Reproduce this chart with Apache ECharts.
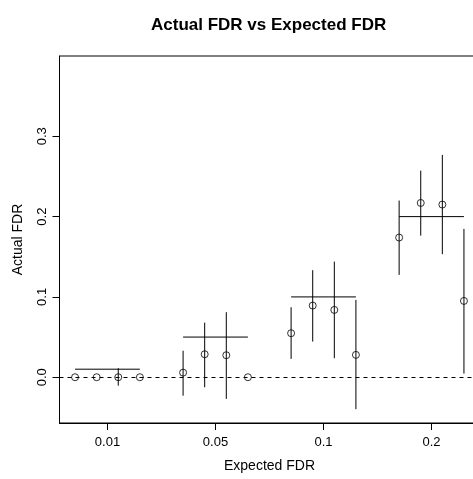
<!DOCTYPE html>
<html><head><meta charset="utf-8">
<script src="https://cdn.jsdelivr.net/npm/echarts@6/dist/echarts.min.js"></script>
<style>html,body{margin:0;padding:0;background:#fff}#c{width:473px;height:479px}</style>
</head><body><div id="c"></div>
<script>
// ---- data ----
const groupLabels = ['0.01', '0.05', '0.1', '0.2'];
const expectedFDR = [0.01, 0.05, 0.1, 0.2];
const actual = [
  [0, 0, 0, 0],
  [0.0057, 0.0286, 0.0274, 0],
  [0.0548, 0.0892, 0.0838, 0.0278],
  [0.1739, 0.217, 0.215, 0.095]
];
const lower = [
  [null, null, -0.0105, null],
  [-0.023, -0.0125, -0.027, null],
  [0.0228, 0.0444, 0.0237, -0.0398],
  [0.1274, 0.1763, 0.1532, 0.0045]
];
const upper = [
  [null, null, 0.0112, null],
  [0.033, 0.068, 0.081, null],
  [0.0872, 0.1333, 0.144, 0.0963],
  [0.22, 0.2573, 0.2768, 0.1847]
];
const yTicks = [0, 0.1, 0.2, 0.3];

// ---- build ----
const pos = (g, j) => 5 * g + j + 1;
const groupTick = g => 5 * g + 2.5;
const xTicks = groupLabels.map((_, g) => groupTick(g));

const points = [], bars = [], targets = [];
actual.forEach((row, g) => {
  row.forEach((v, j) => {
    points.push([pos(g, j), v]);
    if (lower[g][j] != null) bars.push([pos(g, j), lower[g][j], upper[g][j]]);
  });
  targets.push([pos(g, 0), pos(g, row.length - 1), expectedFDR[g]]);
});

const FONT = 'Liberation Sans, Arial, Helvetica, sans-serif';
const chart = echarts.init(document.getElementById('c'), null, {renderer: 'canvas'});
chart.setOption({
  animation: false,
  backgroundColor: '#fff',
  title: {
    text: 'Actual FDR vs Expected FDR',
    left: 146, top: 12,
    textStyle: {fontFamily: FONT, fontSize: 17, fontWeight: 'bold', color: '#000'}
  },
  grid: {left: 59.5, top: 56, width: 420, bottom: 56, containLabel: false, outerBoundsMode: 'none',
    show: true, borderColor: '#000', borderWidth: 1, backgroundColor: 'transparent'},
  xAxis: {
    type: 'value', min: 0.28, max: 19.72,
    name: 'Expected FDR', nameLocation: 'middle', nameGap: 36,
    nameTextStyle: {fontFamily: FONT, fontSize: 14, color: '#000'},
    axisLine: {show: true, onZero: false, lineStyle: {color: '#000'}},
    axisTick: {show: true, customValues: xTicks, length: 7, lineStyle: {color: '#000'}},
    axisLabel: {
      customValues: xTicks, margin: 13, fontFamily: FONT, fontSize: 13, color: '#000',
      formatter: v => { const i = xTicks.findIndex(t => Math.abs(t - v) < 1e-6); return i >= 0 ? groupLabels[i] : ''; }
    },
    splitLine: {show: false}
  },
  yAxis: {
    type: 'value', min: -0.057, max: 0.40,
    name: 'Actual FDR', nameLocation: 'middle', nameGap: 34,
    nameTextStyle: {fontFamily: FONT, fontSize: 14, color: '#000'},
    axisLine: {show: true, onZero: false, lineStyle: {color: '#000'}},
    axisTick: {show: true, customValues: yTicks, length: 7, lineStyle: {color: '#000'}},
    axisLabel: {
      customValues: yTicks, rotate: 90, margin: 11, fontFamily: FONT, fontSize: 13, color: '#000',
      formatter: v => v.toFixed(1)
    },
    splitLine: {show: false}
  },
  series: [
    {
      type: 'custom', silent: true, data: bars,
      encode: {x: 0, y: [1, 2]},
      renderItem: (params, api) => {
        const p1 = api.coord([api.value(0), api.value(1)]);
        const p2 = api.coord([api.value(0), api.value(2)]);
        return {type: 'line', shape: {x1: p1[0], y1: p1[1], x2: p2[0], y2: p2[1]}, style: {stroke: '#000', lineWidth: 1}};
      }
    },
    {
      type: 'custom', silent: true, data: targets,
      encode: {x: [0, 1], y: 2},
      renderItem: (params, api) => {
        const p1 = api.coord([api.value(0), api.value(2)]);
        const p2 = api.coord([api.value(1), api.value(2)]);
        return {type: 'line', shape: {x1: p1[0], y1: p1[1], x2: p2[0], y2: p2[1]}, style: {stroke: '#000', lineWidth: 1}};
      }
    },
    {
      type: 'scatter', silent: true, data: points,
      symbol: 'circle', symbolSize: 7,
      itemStyle: {color: 'rgba(0,0,0,0)', borderColor: '#000', borderWidth: 1},
      markLine: {
        silent: true, symbol: 'none', label: {show: false},
        lineStyle: {color: '#000', type: [4, 4], width: 1},
        data: [{yAxis: 0}]
      }
    }
  ]
});
</script></body></html>
